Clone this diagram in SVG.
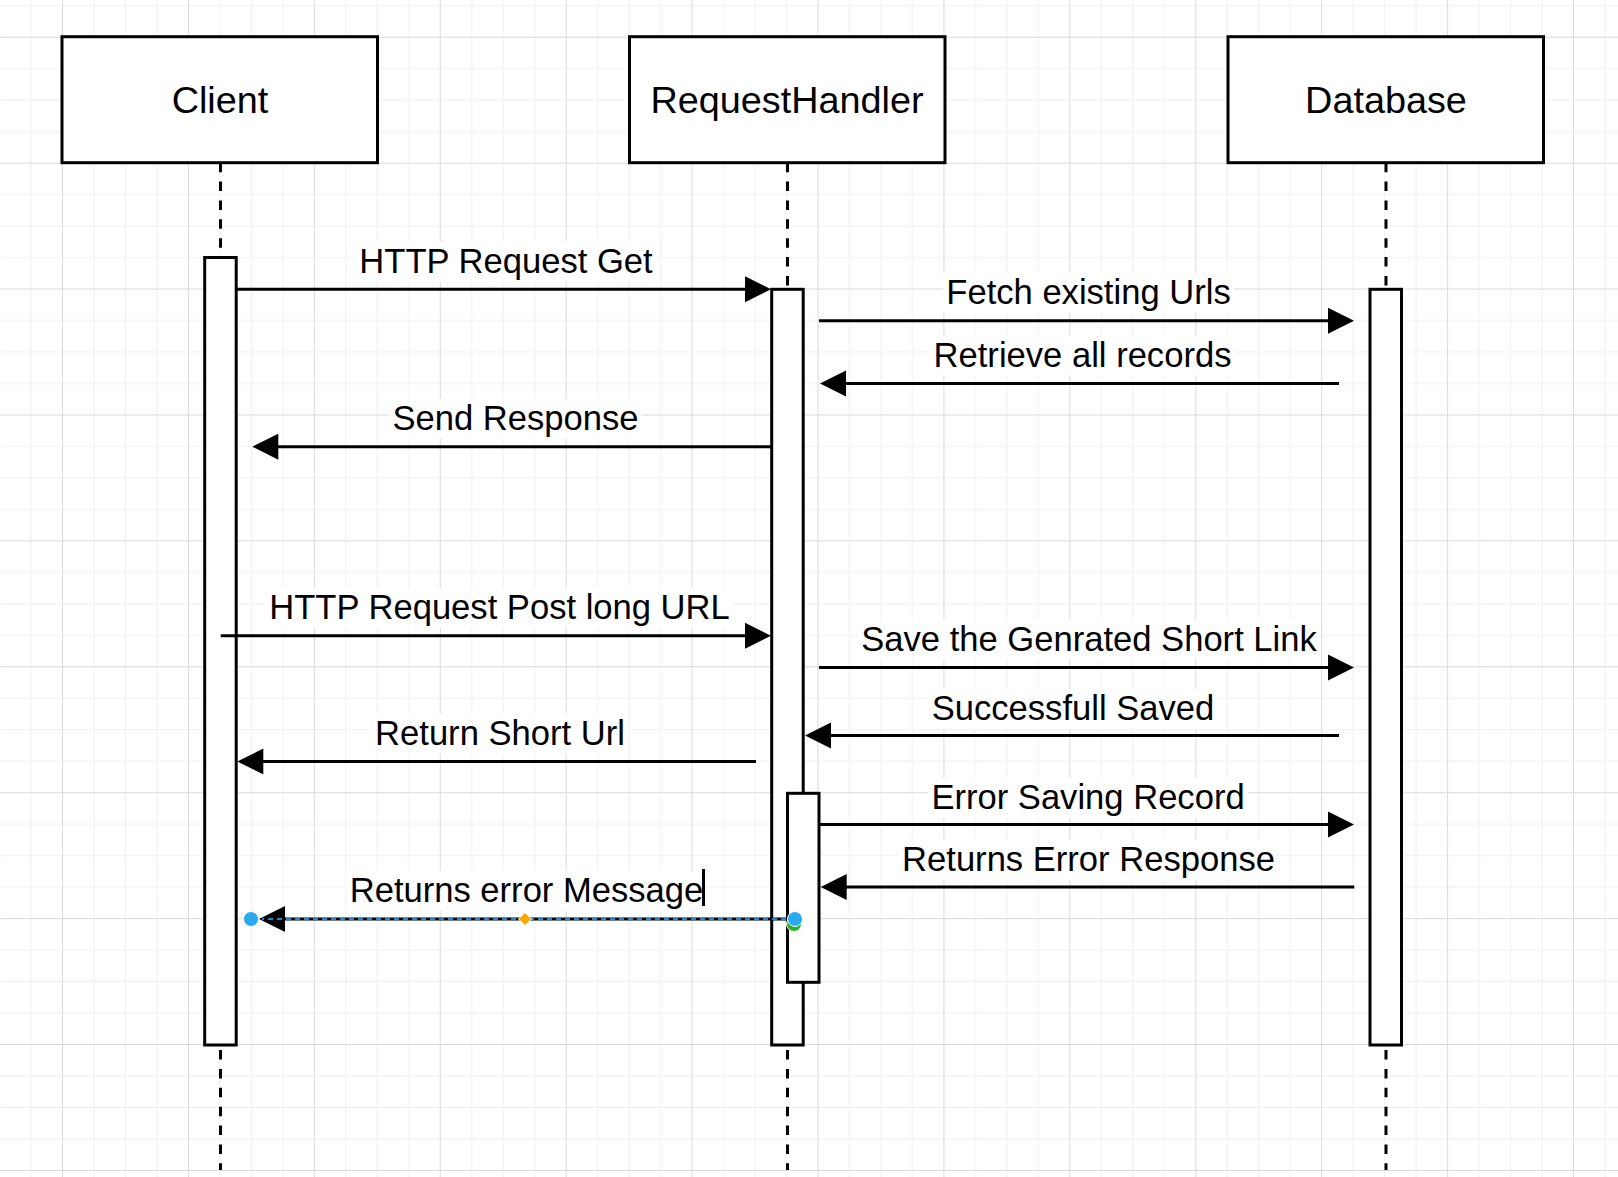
<svg xmlns="http://www.w3.org/2000/svg" width="1618" height="1177" viewBox="0 0 1618 1177">
  <style>
    .box { fill: #ffffff; stroke: #000000; stroke-width: 3; }
    .act { fill: #ffffff; stroke: #000000; stroke-width: 3; }
    .life { stroke: #000000; stroke-width: 3; stroke-dasharray: 9.44 9.44; fill: none; }
    .msg { stroke: #000000; stroke-width: 3; fill: none; marker-end: url(#block); }
    .title { font-family: "Liberation Sans", Arial, sans-serif; font-size: 37.8px; fill: #000000; text-anchor: middle; }
    .lbl { font-family: "Liberation Sans", Arial, sans-serif; font-size: 34.6px; fill: #000000; text-anchor: middle; }
    .lblbg { fill: #ffffff; }
  </style>
  <defs>
    <pattern id="grid" patternUnits="userSpaceOnUse" x="62" y="36.7" width="125.92" height="125.92">
      <rect x="31.48" y="0" width="1" height="125.92" fill="#f0f0f0"/>
      <rect x="62.96" y="0" width="1" height="125.92" fill="#f0f0f0"/>
      <rect x="94.44" y="0" width="1" height="125.92" fill="#f0f0f0"/>
      <rect x="0" y="31.48" width="125.92" height="1" fill="#f0f0f0"/>
      <rect x="0" y="62.96" width="125.92" height="1" fill="#f0f0f0"/>
      <rect x="0" y="94.44" width="125.92" height="1" fill="#f0f0f0"/>
      <rect x="0" y="0" width="1" height="125.92" fill="#dadada"/>
      <rect x="0" y="0" width="125.92" height="1" fill="#dadada"/>
    </pattern>
    <marker id="block" markerUnits="userSpaceOnUse" markerWidth="26" markerHeight="26" refX="1" refY="13" orient="auto" overflow="visible">
      <path d="M0,0 L26,13 L0,26 Z" fill="#000000"/>
    </marker>
  </defs>

  <rect x="0" y="0" width="1618" height="1177" fill="#ffffff"/>
  <rect x="0" y="0" width="1618" height="1177" fill="url(#grid)"/>

  <g id="lifeline-client">
    <line class="life" x1="220.5" y1="162.7" x2="220.5" y2="1170"/>
    <rect class="box" x="62" y="36.7" width="315.5" height="126"/>
    <text class="title" x="220" y="113">Client</text>
  </g>
  <g id="lifeline-requesthandler">
    <line class="life" x1="787.5" y1="162.7" x2="787.5" y2="1170"/>
    <rect class="box" x="629.5" y="36.7" width="315.5" height="126"/>
    <text class="title" x="787" y="113">RequestHandler</text>
  </g>
  <g id="lifeline-database">
    <line class="life" x1="1386" y1="162.7" x2="1386" y2="1170"/>
    <rect class="box" x="1228" y="36.7" width="315.5" height="126"/>
    <text class="title" x="1386" y="113">Database</text>
  </g>

  <g id="activation-client">
    <rect class="act" x="204.7" y="257.5" width="31.5" height="787.5"/>
  </g>
  <g id="activation-requesthandler">
    <rect class="act" x="771.7" y="289.3" width="31.5" height="755.7"/>
  </g>
  <g id="activation-database">
    <rect class="act" x="1370" y="289.3" width="31.5" height="755.7"/>
  </g>
  <g id="activation-requesthandler-error">
    <rect class="act" x="787.5" y="793.3" width="31.5" height="189"/>
  </g>

  <g id="connectors">
    <line class="msg" x1="236" y1="289.3" x2="746" y2="289.3"/>
    <line class="msg" x1="819" y1="320.7" x2="1329" y2="320.7"/>
    <line class="msg" x1="1339" y1="383.5" x2="845" y2="383.5"/>
    <line class="msg" x1="771" y1="446.7" x2="277.3" y2="446.7"/>
    <line class="msg" x1="220.7" y1="635.7" x2="746" y2="635.7"/>
    <line class="msg" x1="819" y1="667.5" x2="1329" y2="667.5"/>
    <line class="msg" x1="1339" y1="735.5" x2="830" y2="735.5"/>
    <line class="msg" x1="756" y1="761.5" x2="262.3" y2="761.5"/>
    <line class="msg" x1="819" y1="824.5" x2="1329" y2="824.5"/>
    <line class="msg" x1="1354.3" y1="887" x2="845.7" y2="887"/>
    <line class="msg" x1="795" y1="919" x2="284" y2="919"/>
    <line x1="795" y1="919" x2="262" y2="919" stroke="#1b8ad3" stroke-width="2" stroke-dasharray="5 4"/>
  </g>

  <g id="labels">
    <rect class="lblbg" x="356" y="241.5" width="300" height="40"/>
    <text class="lbl" x="506" y="272.5">HTTP Request Get</text>
    <rect class="lblbg" x="943" y="272.7" width="291" height="40"/>
    <text class="lbl" x="1088.5" y="303.7">Fetch existing Urls</text>
    <rect class="lblbg" x="930.5" y="335.5" width="304" height="40"/>
    <text class="lbl" x="1082.5" y="366.5">Retrieve all records</text>
    <rect class="lblbg" x="389.5" y="398.7" width="252" height="40"/>
    <text class="lbl" x="515.5" y="429.7">Send Response</text>
    <rect class="lblbg" x="265.7" y="587.7" width="467.6" height="40"/>
    <text class="lbl" x="499.5" y="618.7">HTTP Request Post long URL</text>
    <rect class="lblbg" x="858" y="619.5" width="462" height="40"/>
    <text class="lbl" x="1089" y="650.5">Save the Genrated Short Link</text>
    <rect class="lblbg" x="928.6" y="689" width="288.8" height="40"/>
    <text class="lbl" x="1073" y="720">Successfull Saved</text>
    <rect class="lblbg" x="372" y="713.5" width="256" height="40"/>
    <text class="lbl" x="500" y="744.5">Return Short Url</text>
    <rect class="lblbg" x="928.3" y="778.3" width="319.4" height="40"/>
    <text class="lbl" x="1088" y="809.3">Error Saving Record</text>
    <rect class="lblbg" x="899" y="840" width="379" height="40"/>
    <text class="lbl" x="1088.5" y="871">Returns Error Response</text>
    <rect class="lblbg" x="346.6" y="871" width="359.8" height="40"/>
    <text class="lbl" x="526.5" y="902">Returns error Message</text>
    <rect x="702" y="869" width="3" height="37" fill="#000000"/>
  </g>

  <g id="selection-handles">
    <circle cx="794" cy="924" r="7.5" fill="#1fb81f" stroke="#ffffff" stroke-width="1"/>
    <circle cx="795" cy="919" r="7.5" fill="#29aaf0" stroke="#ffffff" stroke-width="1"/>
    <circle cx="251" cy="919" r="7.5" fill="#29aaf0" stroke="#ffffff" stroke-width="1"/>
    <path d="M525,912.5 L531.5,919 L525,925.5 L518.5,919 Z" fill="#ffa500" stroke="#ffffff" stroke-width="1"/>
  </g>
</svg>
